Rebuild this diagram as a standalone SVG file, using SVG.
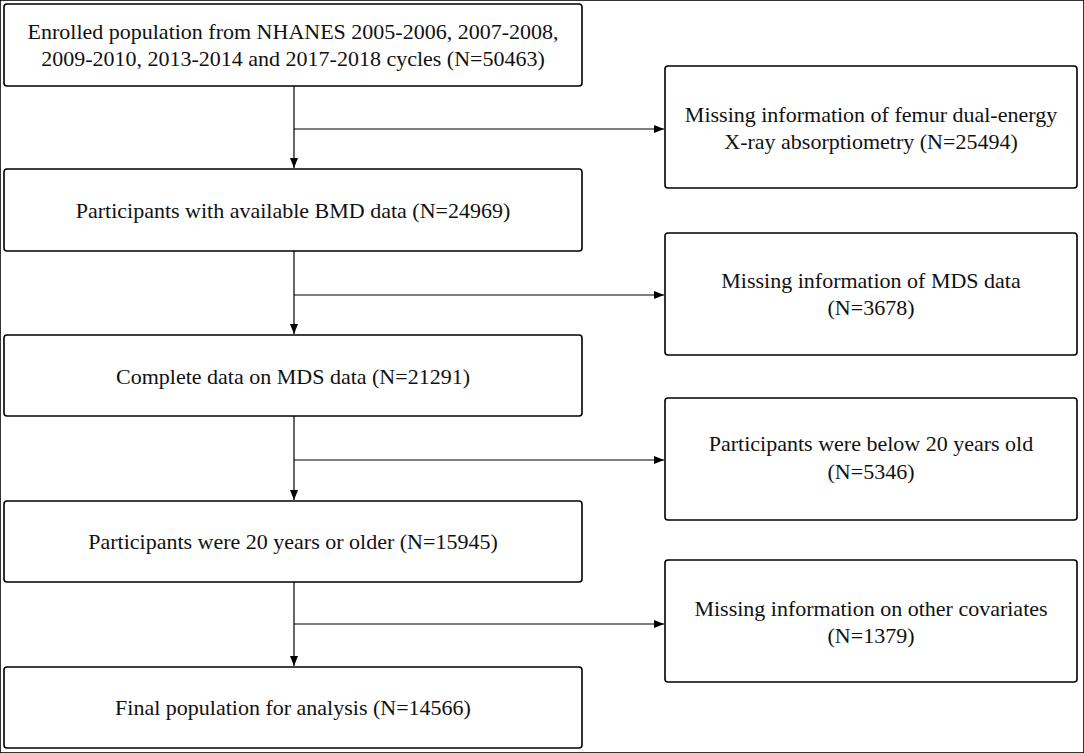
<svg xmlns="http://www.w3.org/2000/svg" width="1084" height="753" viewBox="0 0 1084 753">
<style>
rect{fill:#fff;stroke:#000;stroke-width:1.6}
text{font-family:"Liberation Serif","Times New Roman",serif;font-size:22px;fill:#111;text-anchor:middle}
.c line{stroke:#000;stroke-width:1.2}
</style>
<defs><marker id="a" markerWidth="10" markerHeight="8" refX="10" refY="4" orient="auto" markerUnits="userSpaceOnUse"><path d="M0,0 L10,4 L0,8 z" fill="#000"/></marker></defs>
<rect width="1084" height="753" fill="#fff" stroke="none"/>
<g id="n1"><rect x="4" y="4" width="578" height="82" rx="3"/><text x="293" y="39">Enrolled population from NHANES 2005-2006, 2007-2008,</text><text x="293" y="66">2009-2010, 2013-2014 and 2017-2018 cycles (N=50463)</text></g>
<g id="n2"><rect x="4" y="169" width="578" height="82" rx="3"/><text x="293" y="218">Participants with available BMD data (N=24969)</text></g>
<g id="n3"><rect x="4" y="335" width="578" height="81" rx="3"/><text x="293" y="384">Complete data on MDS data (N=21291)</text></g>
<g id="n4"><rect x="4" y="501" width="578" height="81" rx="3"/><text x="293" y="549">Participants were 20 years or older (N=15945)</text></g>
<g id="n5"><rect x="4" y="667" width="578" height="81" rx="3"/><text x="293" y="715">Final population for analysis (N=14566)</text></g>
<g id="e1"><rect x="665" y="66" width="412" height="122" rx="3"/><text x="871" y="122">Missing information of femur dual-energy</text><text x="871" y="149">X-ray absorptiometry (N=25494)</text></g>
<g id="e2"><rect x="665" y="233" width="412" height="122" rx="3"/><text x="871" y="288">Missing information of MDS data</text><text x="871" y="315">(N=3678)</text></g>
<g id="e3"><rect x="665" y="398" width="412" height="122" rx="3"/><text x="871" y="451">Participants were below 20 years old</text><text x="871" y="479">(N=5346)</text></g>
<g id="e4"><rect x="665" y="560" width="412" height="122" rx="3"/><text x="871" y="616">Missing information on other covariates</text><text x="871" y="643">(N=1379)</text></g>
<g class="c" id="connectors">
<line x1="294" y1="86" x2="294" y2="168" marker-end="url(#a)"/><line x1="294" y1="129" x2="664" y2="129" marker-end="url(#a)"/>
<line x1="294" y1="251" x2="294" y2="334" marker-end="url(#a)"/><line x1="294" y1="295" x2="664" y2="295" marker-end="url(#a)"/>
<line x1="294" y1="416" x2="294" y2="500" marker-end="url(#a)"/><line x1="294" y1="460" x2="664" y2="460" marker-end="url(#a)"/>
<line x1="294" y1="582" x2="294" y2="666" marker-end="url(#a)"/><line x1="294" y1="624" x2="664" y2="624" marker-end="url(#a)"/>
</g>
</svg>
